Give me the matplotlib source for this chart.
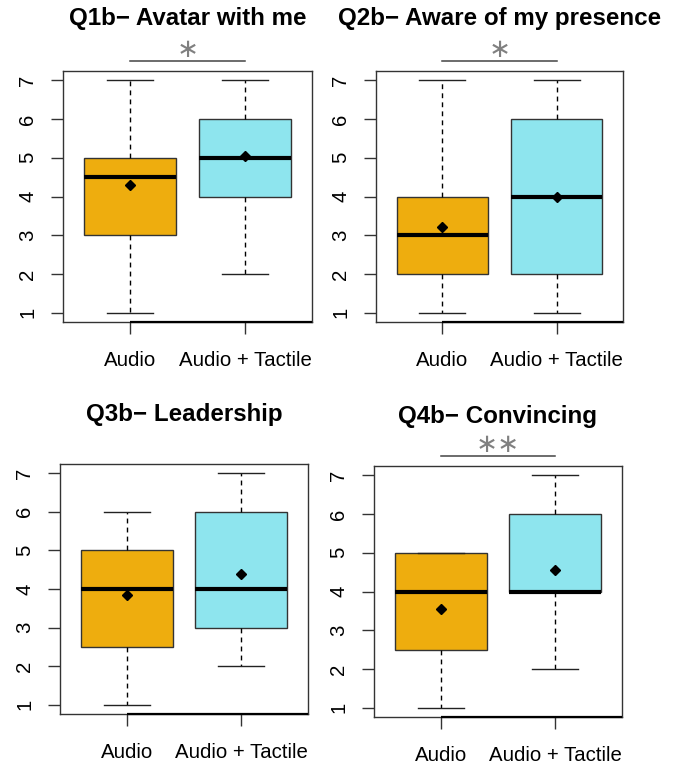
import matplotlib
matplotlib.use('Agg')
import matplotlib.pyplot as plt

plt.rcParams['font.family'] = ['Liberation Sans', 'DejaVu Sans']

titles = ['Q1b\u2212 Avatar with me', 'Q2b\u2212 Aware of my presence',
          'Q3b\u2212 Leadership', 'Q4b\u2212 Convincing']
groups = ['Audio', 'Audio + Tactile']
signif = ['\u2217', '\u2217', '', '\u2217\u2217']

# per panel: [Audio, Audio + Tactile]
whis_lo = [[1, 2], [1, 1], [1, 2], [1, 2]]
q1 = [[3, 4], [2, 2], [2.5, 3], [2.5, 4]]
med = [[4.5, 5], [3, 4], [4, 4], [4, 4]]
q3 = [[5, 6], [4, 6], [5, 6], [5, 6]]
whis_hi = [[7, 7], [7, 7], [6, 7], [5, 7]]
means = [[4.3, 5.05], [3.2, 4.0], [3.85, 4.4], [3.55, 4.55]]

colors = ['#EEAD0E', '#8EE5EE']

W, H = 676, 766
# axes boxes in pixels (left, top, right, bottom)
boxes = [(63, 71, 312, 322), (376, 71, 623, 322),
         (60, 464, 308, 714), (374, 466, 622, 717)]
title_gap = [53, 53, 49, 49]

fig = plt.figure(figsize=(W / 100, H / 100), dpi=100)

for i in range(4):
    l, t, r, b = boxes[i]
    ax = fig.add_axes([l / W, (H - b) / H, (r - l) / W, (b - t) / H])
    stats = []
    for j in range(2):
        stats.append({'whislo': whis_lo[i][j], 'q1': q1[i][j], 'med': med[i][j],
                      'q3': q3[i][j], 'whishi': whis_hi[i][j], 'mean': means[i][j],
                      'fliers': []})
    bp = ax.bxp(stats, positions=[1, 2], widths=0.8, capwidths=0.4,
                patch_artist=True, showmeans=True, showfliers=False,
                boxprops=dict(edgecolor='#333333', linewidth=1.0),
                medianprops=dict(color='black', linewidth=3.0, solid_capstyle='butt'),
                whiskerprops=dict(color='black', linewidth=1.0, linestyle=(0, (3.5, 3))),
                capprops=dict(color='#222222', linewidth=1.0),
                meanprops=dict(marker='D', markerfacecolor='black',
                               markeredgecolor='black', markersize=5.5))
    for patch, c in zip(bp['boxes'], colors):
        patch.set_facecolor(c)

    ax.set_xlim(0.42, 2.58)
    ax.set_ylim(0.76, 7.24)
    ax.set_yticks(range(1, 8))
    ax.set_yticklabels([str(v) for v in range(1, 8)], rotation=90, va='center')
    ax.set_xticks([1, 2])
    ax.set_xticklabels(groups)
    ax.tick_params(axis='both', length=8.6, width=1.0, color='#333333',
                   labelsize=14.7, labelcolor='black')
    ax.tick_params(axis='y', pad=10)
    ax.tick_params(axis='x', pad=12)
    for sp in ax.spines.values():
        sp.set_color('#333333')
        sp.set_linewidth(1.0)
    # R axis line along the bottom
    ax.plot([1, ax.get_xlim()[1]], [ax.get_ylim()[0]] * 2, color='black',
            lw=1.6, clip_on=False, solid_capstyle='butt', zorder=5)

    ax.text(0.5, 1 + title_gap[i] / (b - t), titles[i], transform=ax.transAxes,
            ha='center', va='center', fontsize=17.4, fontweight='bold')

    if signif[i]:
        ax.plot([1, 2], [7.49, 7.49], color='#444444', lw=1.1, clip_on=False)
        ax.text(1.5, 7.78, signif[i], ha='center', va='center', fontsize=19,
                color='#808080', family='DejaVu Sans', clip_on=False)

fig.savefig('out.png', dpi=100)
